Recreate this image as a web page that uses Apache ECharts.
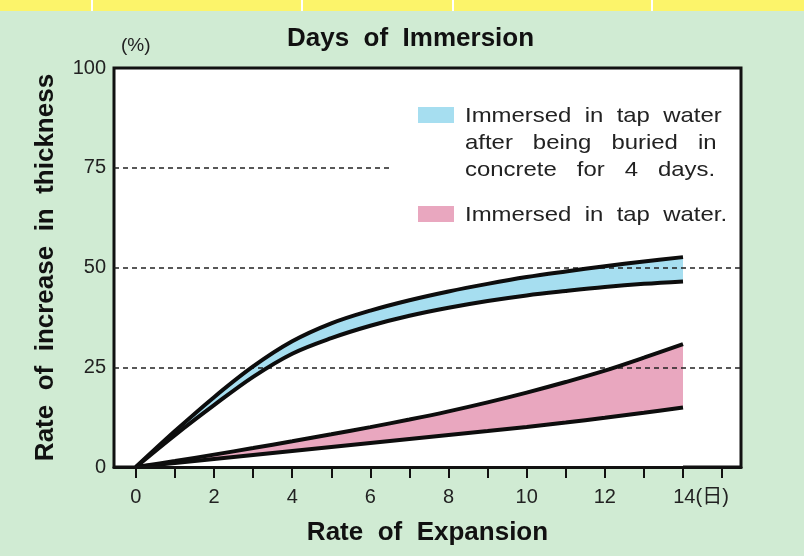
<!DOCTYPE html>
<html>
<head>
<meta charset="utf-8">
<script src="https://cdn.jsdelivr.net/npm/echarts@6/dist/echarts.min.js"></script>
<style>html,body{margin:0;padding:0;background:#d0ebd3;}#c{width:804px;height:556px;}</style>
</head>
<body>
<div id="c"></div>
<script>
// ---- data ----
const days = [0,1,2,3,4,5,6,7,8,9,10,11,12,13,14];
const blueUpper = [0,9,17.5,25.2,31.5,36.0,39.2,41.8,44.0,45.9,47.6,49.0,50.3,51.5,52.6];
const blueLower = [0,8,15.5,22.6,28.4,32.3,35.4,37.9,39.9,41.6,43.0,44.1,45.1,45.9,46.5];
const pinkUpper = [0,1.5,3.1,4.75,6.45,8.2,10.0,11.9,13.95,16.2,18.65,21.3,24.15,27.4,30.8];
const pinkLower = [0,1,2,3,4,5,6,7,8,9,10.05,11.15,12.35,13.6,14.9];
const xTickValues = [0,1,2,3,4,5,6,7,8,9,10,11,12,13,14,15];
const xLabelValues = [0,2,4,6,8,10,12,14];
const yTicks = [0,25,50,75,100];
const legendBlue = ['Immersed  in  tap  water', 'after   being   buried   in', 'concrete   for   4   days.'];
const legendPink = 'Immersed  in  tap  water.';

const FONT = '"Liberation Sans", Arial, "Noto Sans CJK JP", sans-serif';
const pairs = (arr) => days.map((d, i) => [d, arr[i]]);
const SMOOTH = 0.35;

const chart = echarts.init(document.getElementById('c'), null, {renderer: 'canvas'});
const lineSeries = (name, arr) => ({
  name, type: 'line', data: pairs(arr), smooth: SMOOTH, symbol: 'none', z: 5,
  lineStyle: {color: '#0d0d0d', width: 4}
});
const fillSeries = (name, arr, color) => ({
  name, type: 'line', data: pairs(arr), smooth: SMOOTH, symbol: 'none', z: 2, silent: true,
  lineStyle: {width: 0}, areaStyle: {color, opacity: 1}
});
const option = {
  backgroundColor: '#d0ebd3',
  animation: false,
  textStyle: {fontFamily: FONT},
  title: {
    text: 'Days  of  Immersion', left: 287, top: 26, padding: 0,
    textStyle: {fontSize: 26, fontWeight: 'bold', color: '#111', fontFamily: FONT}
  },
  grid: {
    left: 114, right: 63, top: 68, bottom: 89,
    show: true, backgroundColor: '#ffffff', borderColor: '#111', borderWidth: 3
  },
  xAxis: {
    type: 'value', min: -0.56, max: 15.484, z: 10,
    name: 'Rate  of  Expansion', nameLocation: 'middle', nameGap: 53,
    nameTextStyle: {fontSize: 26, fontWeight: 'bold', color: '#111', fontFamily: FONT},
    axisLine: {show: true, lineStyle: {color: '#111', width: 3}},
    splitLine: {show: false},
    axisTick: {show: true, customValues: xTickValues, length: 11, lineStyle: {color: '#111', width: 2}},
    axisLabel: {
      customValues: xLabelValues, margin: 20, fontSize: 20, color: '#222', fontFamily: FONT,
      formatter: (v) => v === 14 ? '{p|}14(日)' : String(v),
      rich: {p: {width: 36}}
    }
  },
  yAxis: {
    type: 'value', min: 0, max: 100, interval: 25,
    name: 'Rate  of  increase  in  thickness', nameLocation: 'middle', nameRotate: 90, nameGap: 55,
    nameTextStyle: {fontSize: 26, fontWeight: 'bold', color: '#111', fontFamily: FONT},
    axisLine: {show: false}, axisTick: {show: false}, splitLine: {show: false},
    axisLabel: {margin: 8, fontSize: 20, color: '#222', fontFamily: FONT,
      formatter: (v) => yTicks.includes(v) ? String(v) : ''}
  },
  series: [
    fillSeries('blueFill', blueUpper, '#a6def0'),
    fillSeries('blueCut', blueLower, '#ffffff'),
    fillSeries('pinkFill', pinkUpper, '#e9a7bf'),
    fillSeries('pinkCut', pinkLower, '#ffffff'),
    Object.assign(lineSeries('blueUpper', blueUpper), {
      markLine: {
        silent: true, symbol: 'none', label: {show: false},
        lineStyle: {color: '#222', width: 1.6, type: [5, 4]},
        data: [
          {yAxis: 50}, {yAxis: 25},
          [{coord: [-0.56, 75]}, {coord: [6.56, 75]}]
        ]
      }
    }),
    lineSeries('blueLower', blueLower),
    lineSeries('pinkUpper', pinkUpper),
    lineSeries('pinkLower', pinkLower)
  ],
  graphic: [
    {type: 'rect', shape: {x: 0, y: 0, width: 804, height: 11}, style: {fill: '#fcf46a'}, z: 10},
    {type: 'rect', shape: {x: 91, y: 0, width: 2, height: 11}, style: {fill: '#ffffff'}, z: 11},
    {type: 'rect', shape: {x: 301, y: 0, width: 2, height: 11}, style: {fill: '#ffffff'}, z: 11},
    {type: 'rect', shape: {x: 452, y: 0, width: 2, height: 11}, style: {fill: '#ffffff'}, z: 11},
    {type: 'rect', shape: {x: 651, y: 0, width: 2, height: 11}, style: {fill: '#ffffff'}, z: 11},
    {type: 'text', x: 121, y: 46, style: {text: '(%)', font: '19px ' + FONT, fill: '#222', verticalAlign: 'middle'}, z: 10},
    {type: 'rect', shape: {x: 418, y: 107, width: 36, height: 16}, style: {fill: '#a6def0'}, z: 10},
    {type: 'rect', shape: {x: 418, y: 206, width: 36, height: 16}, style: {fill: '#e9a7bf'}, z: 10},
    {type: 'text', x: 465, y: 116, scaleX: 1.14, style: {text: legendBlue[0], font: '21px ' + FONT, fill: '#222', verticalAlign: 'middle'}, z: 10},
    {type: 'text', x: 465, y: 143, scaleX: 1.14, style: {text: legendBlue[1], font: '21px ' + FONT, fill: '#222', verticalAlign: 'middle'}, z: 10},
    {type: 'text', x: 465, y: 170, scaleX: 1.14, style: {text: legendBlue[2], font: '21px ' + FONT, fill: '#222', verticalAlign: 'middle'}, z: 10},
    {type: 'text', x: 465, y: 215, scaleX: 1.14, style: {text: legendPink, font: '21px ' + FONT, fill: '#222', verticalAlign: 'middle'}, z: 10}
  ]
};
chart.setOption(option);
</script>
</body>
</html>
